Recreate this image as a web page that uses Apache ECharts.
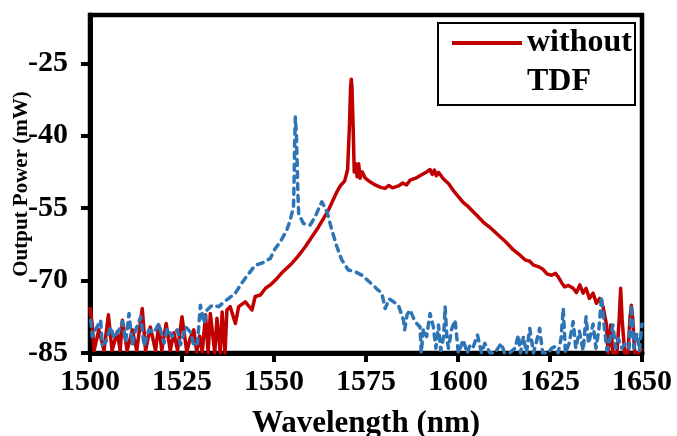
<!DOCTYPE html>
<html>
<head>
<meta charset="utf-8">
<script src="https://cdn.jsdelivr.net/npm/echarts@6/dist/echarts.min.js"></script>
<style>html,body{margin:0;padding:0;background:#fff}#c{width:677px;height:436px}</style>
</head>
<body>
<div id="c"></div>
<script>
// Wavelength (nm) / Output Power values
const xTicks = [1500, 1525, 1550, 1575, 1600, 1625, 1650];
const yTicks = [-85, -70, -55, -40, -25];

const withoutWl = [1500,1500.6,1501.1,1502.4,1503.8,1505.0,1506.0,1507.4,1508.2,1508.8,1510.1,1511.5,1512.7,1514.2,1515.1,1516.4,1517.8,1518.7,1519.5,1520.7,1521.8,1522.8,1523.8,1525.0,1526.3,1527.2,1528.2,1529.0,1529.8,1530.5,1531.4,1532.1,1532.7,1533.9,1534.5,1535.4,1535.9,1536.7,1537.2,1538.1,1539.5,1540.4,1542.2,1544.0,1544.9,1546.3,1547.7,1549.0,1550.4,1552,1554.9,1556.5,1558.5,1560,1562.1,1564.8,1567.1,1568.2,1569.2,1570.0,1570.5,1570.8,1571.0,1571.2,1571.5,1571.8,1572.2,1572.6,1573.0,1573.4,1574.0,1574.8,1576,1577.5,1579,1580.2,1581.2,1582.2,1583.8,1585,1586,1587.0,1588.5,1590.1,1591.5,1592.4,1593.0,1593.6,1594.1,1594.7,1596,1597.4,1598.7,1600.1,1601.4,1602.8,1604.2,1605.5,1607,1609,1611,1613,1615,1616.5,1618.2,1619.5,1620.5,1621.8,1623,1624.2,1625.4,1626.5,1627.2,1628.2,1629,1630,1631.3,1632.2,1633.1,1634.0,1634.8,1635.7,1636.7,1637.6,1638.5,1639.4,1640.3,1640.8,1641.5,1642.1,1643.2,1643.8,1644.2,1644.6,1645.3,1646.2,1646.7,1647.1,1647.5,1648,1649,1650];
const withoutPw = [-75.5,-79,-84.5,-80.2,-84.5,-77.1,-84.5,-80.6,-84.5,-78.2,-84.5,-80.2,-84.5,-75.8,-84.5,-79.6,-84.5,-79.2,-84.5,-78.9,-84.5,-80.8,-84.5,-77.5,-84.8,-82,-80.2,-84.8,-81.5,-84.8,-77.1,-85,-76.8,-85,-77.8,-85,-76.5,-85,-76.1,-75.4,-78.9,-75.4,-74.4,-76.1,-73.3,-73.0,-71.6,-70.9,-69.9,-68.5,-66.4,-65,-63.0,-61.3,-58.9,-55.4,-51.6,-50.2,-49.4,-47,-38,-30,-28.3,-30,-38,-47.5,-45.8,-48.5,-45.8,-48.8,-47.5,-48.8,-49.5,-50.2,-50.7,-50.9,-50.3,-50.8,-50.4,-49.8,-50.2,-49.2,-48.8,-48.1,-47.5,-47.0,-48,-47.1,-48.3,-47.6,-48.9,-49.9,-51.3,-52.6,-53.8,-54.7,-55.8,-56.8,-58,-59.2,-60.6,-62,-63.6,-64.5,-65.7,-66.0,-66.8,-67.1,-67.6,-68.6,-68.9,-68.5,-69.2,-70.5,-71.3,-71.0,-71.6,-72.5,-70.9,-72.6,-71.6,-73.7,-72.6,-74.7,-73.7,-75.4,-78.9,-85,-79.2,-85,-85,-78,-71.6,-78,-85,-85,-78,-75.1,-78,-85,-85,-84];

const withTdfWl = [1500.2,1500.6,1501.5,1502.9,1503.3,1504.3,1505.6,1506.5,1507.9,1508.8,1509.7,1510.6,1511.5,1512.4,1513.8,1514.7,1516.0,1517.4,1518.7,1520.1,1521.0,1522.3,1523.7,1524.6,1526.0,1527.4,1528.2,1529.2,1530.0,1531.0,1531.8,1533.2,1535.0,1536.4,1537.7,1539.5,1540.9,1542.2,1544.9,1546.7,1549.0,1550.3,1551.7,1553.5,1554.4,1555.3,1555.5,1555.6,1555.8,1556.1,1556.3,1556.5,1556.7,1558.0,1559.8,1561.2,1562.2,1563.0,1564.4,1565.7,1567.1,1568.4,1570.2,1572.1,1573.9,1575.5,1577,1578.3,1579.3,1580.2,1581.3,1582.5,1583.8,1585.2,1585.5,1586.2,1587.0,1588.3,1589.7,1590.0,1590.6,1591.5,1592.4,1593.3,1594.0,1594.7,1595.3,1596.1,1596.5,1597.0,1597.4,1598.3,1599.2,1600.1,1601.4,1602.5,1603.2,1604,1605.3,1606.4,1607.3,1608.7,1610,1611.8,1612.6,1614,1615.5,1616.4,1617.0,1617.8,1618.6,1619.5,1620.5,1621.2,1622.2,1623.0,1624.5,1625.5,1626.3,1627.2,1628.0,1628.6,1629.2,1630.2,1631.3,1632.0,1633.0,1634.0,1634.8,1635.5,1636.7,1637.5,1638.3,1639,1639.8,1640.5,1641.4,1642.1,1642.8,1643.6,1644.5,1645.5,1646.5,1647.1,1647.8,1648.6,1649.3,1650];
const withTdfPw = [-78.2,-81.6,-80.2,-78.2,-83.3,-82.7,-79.6,-81.9,-80.2,-78.5,-82.7,-76.8,-83.3,-80.2,-77.5,-83.6,-80.2,-80.8,-78.9,-83,-79.9,-81.6,-80.2,-83.3,-79.6,-80.8,-83.6,-83,-75.1,-78.9,-76.1,-75.1,-75.4,-74.4,-73.7,-72.6,-70.9,-69.5,-66.8,-66.4,-65.4,-63.4,-62.0,-59.5,-57.5,-54.7,-48,-42,-36.1,-40,-46,-52,-56.1,-58.2,-58.5,-56.8,-55,-53.7,-55.7,-59.5,-63.0,-65.7,-67.8,-68.2,-68.9,-70,-71,-72,-72.6,-75.8,-73.8,-74.4,-75.1,-78.2,-80.2,-77,-76.1,-78.5,-79.6,-85,-80,-81.6,-76.8,-79.6,-84,-79.2,-84.5,-81.6,-75.4,-82,-84,-80,-78.2,-85,-82.3,-85,-83.5,-84,-81.3,-85,-83,-85,-85,-83,-85,-85,-84,-81.3,-85,-81.6,-85,-79.9,-85,-83,-79.9,-85,-85,-84,-83.7,-85,-82,-75.7,-85,-83,-78.5,-84,-80.5,-84.5,-77.5,-83,-79,-84,-80,-73.3,-80,-84.5,-82,-79.2,-84,-82,-84,-83,-84,-75,-84,-81,-84.5,-79];

const FONT = "'Liberation Serif','Times New Roman',serif";
const pair = (a, b) => a.map((v, i) => [v, b[i]]);

const chart = echarts.init(document.getElementById('c'), null, {renderer: 'canvas'});
chart.setOption({
  animation: false,
  backgroundColor: '#fff',
  grid: {left: 90, right: 35, top: 15, bottom: 83, outerBoundsMode: 'none', containLabel: false,
         show: true, borderColor: '#000', borderWidth: 4.5, backgroundColor: 'transparent'},
  xAxis: {
    type: 'value', min: xTicks[0], max: xTicks[xTicks.length - 1], interval: 25,
    name: 'Wavelength (nm)', nameLocation: 'middle', nameGap: 55,
    nameTextStyle: {fontFamily: FONT, fontWeight: 'bold', fontSize: 31, color: '#000'},
    axisLine: {lineStyle: {color: '#000', width: 5}},
    axisTick: {show: true, inside: false, length: 9, lineStyle: {color: '#000', width: 4}},
    axisLabel: {fontFamily: FONT, fontWeight: 'bold', fontSize: 30, color: '#000', margin: 14,
                formatter: v => String(v)},
    splitLine: {show: false}
  },
  yAxis: {
    type: 'value', min: -85, max: -15,
    name: 'Output Power (mW)', nameLocation: 'middle', nameGap: 58, nameRotate: 90, nameMoveOverlap: false,
    nameTextStyle: {fontFamily: FONT, fontWeight: 'bold', fontSize: 21, color: '#000'},
    axisLine: {lineStyle: {color: '#000', width: 5}},
    axisTick: {show: true, inside: false, length: 9, customValues: yTicks, lineStyle: {color: '#000', width: 4}},
    axisLabel: {fontFamily: FONT, fontWeight: 'bold', fontSize: 30, color: '#000', margin: 22, customValues: yTicks,
                formatter: v => String(v)},
    splitLine: {show: false}
  },
  series: [
    {name: 'without TDF', type: 'line', data: pair(withoutWl, withoutPw), showSymbol: false, symbol: 'none',
     lineStyle: {color: '#C00000', width: 3.5, join: 'round'}, z: 2},
    {name: 'with TDF', type: 'line', data: pair(withTdfWl, withTdfPw), showSymbol: false, symbol: 'none',
     lineStyle: {color: '#2E75B6', width: 3.5, type: [6, 6], cap: 'round', join: 'round'}, z: 3}
  ],
  graphic: [
    {type: 'rect', shape: {x: 438, y: 23, width: 197, height: 82}, style: {fill: '#fff', stroke: '#000', lineWidth: 2}, z: 10},
    {type: 'line', shape: {x1: 452, y1: 43, x2: 522, y2: 43}, style: {stroke: '#C00000', lineWidth: 4}, z: 11},
    {type: 'text', x: 527, y: 43, style: {text: 'without', font: "bold 32px 'Liberation Serif','Times New Roman',serif", fill: '#000', verticalAlign: 'middle'}, z: 11},
    {type: 'text', x: 527, y: 82, style: {text: 'TDF', font: "bold 32px 'Liberation Serif','Times New Roman',serif", fill: '#000', verticalAlign: 'middle'}, z: 11}
  ]
});
</script>
</body>
</html>
